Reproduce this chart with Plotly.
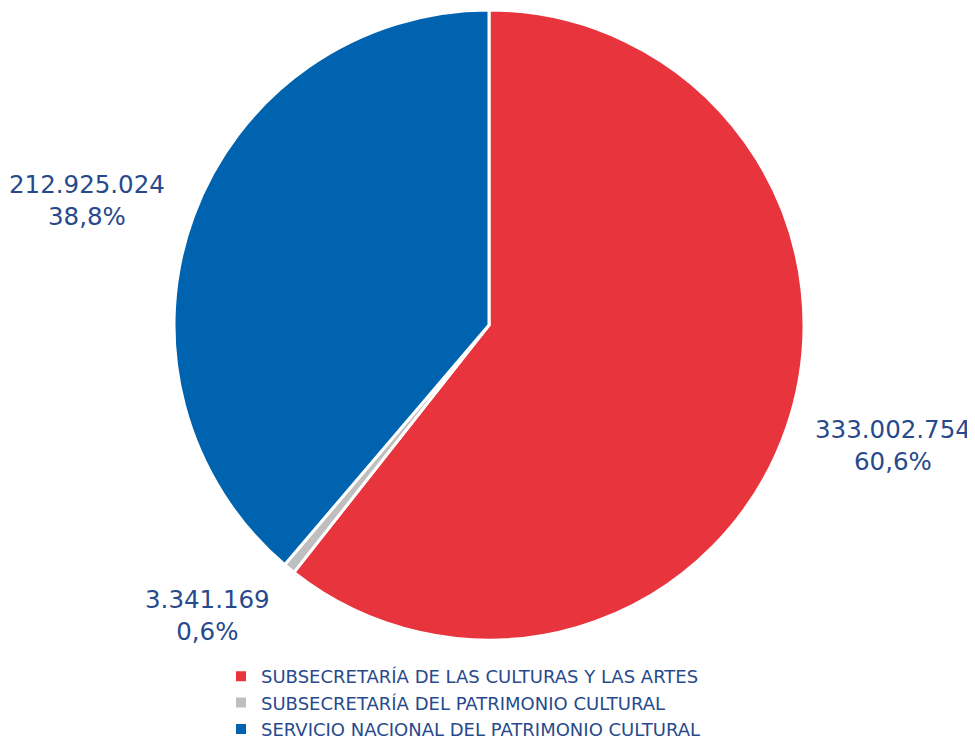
import math
import plotly.graph_objects as go

labels = ["SUBSECRETARÍA DE LAS CULTURAS Y LAS ARTES",
          "SUBSECRETARÍA DEL PATRIMONIO CULTURAL",
          "SERVICIO NACIONAL DEL PATRIMONIO CULTURAL"]
values = [333002754, 3341169, 212925024]
value_text = ["333.002.754", "3.341.169", "212.925.024"]
pct_text = ["60,6%", "0,6%", "38,8%"]
colors = ["#E8343C", "#BFBFBF", "#0063AF"]

W, H = 975, 742
OFF = 8  # page body margin
cx, cy, R = 489 - OFF, 325 - OFF, 315
text_color = "#284A8C"
font = "DejaVu Sans, Verdana, sans-serif"

fig = go.Figure(go.Pie(
    labels=labels, values=values, sort=False, direction="clockwise", rotation=0,
    marker=dict(colors=colors, line=dict(color="white", width=3)),
    textinfo="none", hoverinfo="label+value+percent",
    domain=dict(x=[(cx - R) / W, (cx + R) / W], y=[1 - (cy + R) / H, 1 - (cy - R) / H]),
))

total = sum(values)
cum = 0
annotations = []
for v, vt, pt in zip(values, value_text, pct_text):
    mid = (cum + v / 2) / total * 2 * math.pi
    cum += v
    s, c = math.sin(mid), math.cos(mid)
    d = R + 28
    px = cx + s * d
    if c < -0.6:
        yanchor, nudge = "top", -7
    elif c > 0.6:
        yanchor, nudge = "bottom", 0
    else:
        yanchor, nudge = "middle", (8 if s > 0 else -6)
    py = cy - c * d + nudge
    annotations.append(dict(
        x=px / W, y=1 - py / H, xref="paper", yref="paper",
        text=f"{vt}<br>{pt}", showarrow=False, align="center",
        xanchor="left" if s > 0 else "right", yanchor=yanchor,
        font=dict(size=24.5, color=text_color, family=font),
    ))

fig.update_layout(
    width=W, height=H,
    margin=dict(l=0, r=0, t=0, b=0, autoexpand=False),
    paper_bgcolor="white", plot_bgcolor="white",
    showlegend=True,
    legend=dict(orientation="v", x=(221 - OFF) / W, xanchor="left",
                y=1 - (658 - OFF) / H, yanchor="top",
                font=dict(size=18, color=text_color, family=font),
                itemsizing="constant", tracegroupgap=0, bgcolor="rgba(0,0,0,0)"),
    annotations=annotations,
)

fig.write_html("out.html")
